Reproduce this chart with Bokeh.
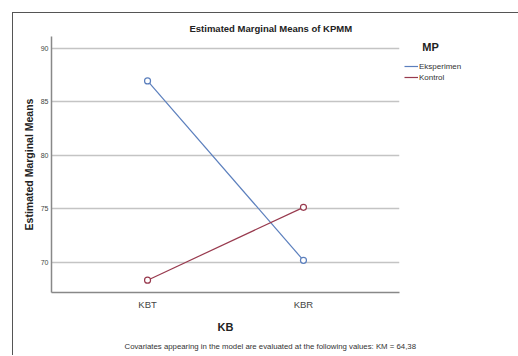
from bokeh.plotting import figure
from bokeh.models import (FactorRange, Range1d, Legend, LegendItem, Title, FixedTicker)
from bokeh.embed import file_html
from bokeh.resources import INLINE

categories = ["KBT", "KBR"]
eksperimen = [86.95, 70.2]
kontrol = [68.35, 75.15]
y_ticks = [70, 75, 80, 85, 90]
series_names = ["Eksperimen", "Kontrol"]
colors = ["#5b7fbd", "#983a4e"]

OFF = 14
L, T, R, B = 52 - OFF, 37 - OFF, 118, 63

p = figure(frame_width=348, frame_height=256, output_backend="svg", toolbar_location=None,
           x_range=FactorRange(*categories, range_padding=0.116),
           y_range=Range1d(67.2, 91.1),
           min_border_left=L, min_border_top=T, min_border_right=R, min_border_bottom=B)
p.styles = {"margin-left": "12px", "margin-top": "12px",
            "border-left": "1.5px solid #555555", "border-top": "1.5px solid #555555"}
p.outline_line_color = None
p.background_fill_color = "white"
p.border_fill_color = "white"

# grid
p.xgrid.grid_line_color = None
p.ygrid.grid_line_color = "#c4c4c4"
p.ygrid.grid_line_width = 1.6
p.ygrid.ticker = FixedTicker(ticks=y_ticks)

# axes
p.yaxis.ticker = FixedTicker(ticks=y_ticks)
for ax in (p.xaxis[0], p.yaxis[0]):
    ax.axis_line_color = "#888888"
    ax.axis_line_width = 1.5
    ax.major_tick_line_color = None
    ax.minor_tick_line_color = None
    ax.major_tick_out = 0
    ax.minor_tick_out = 0
    ax.major_label_text_font = "Liberation Sans"
    ax.major_label_text_color = "#444444"
    ax.axis_label_text_font = "Liberation Sans"
    ax.axis_label_text_font_style = "bold"
    ax.axis_label_text_color = "#222222"
p.yaxis.major_label_text_font_size = "7px"
p.yaxis.major_label_standoff = 3
p.xaxis.major_label_text_font_size = "9.5px"
p.xaxis.major_label_standoff = 6
p.yaxis.axis_label = "Estimated Marginal Means"
p.yaxis.axis_label_text_font_size = "10.5px"
p.yaxis.axis_label_standoff = 3
p.xaxis.axis_label = "KB"
p.xaxis.axis_label_text_font_size = "11px"
p.xaxis.axis_label_standoff = 8

items = []
for name, vals, c in zip(series_names, [eksperimen, kontrol], colors):
    r = p.line(categories, vals, line_color=c, line_width=1.2)
    p.scatter(categories, vals, marker="circle", size=6, fill_color="white",
              line_color=c, line_width=1.2)
    items.append(LegendItem(label=name, renderers=[r]))

legend = Legend(items=items, location="top_left",
                title="\u00a0\u00a0\u00a0\u00a0\u00a0\u00a0MP",
                title_text_font="Liberation Sans", title_text_font_size="11px",
                title_text_font_style="bold", title_text_color="#222222",
                title_standoff=8,
                label_text_font="Liberation Sans", label_text_font_size="8px",
                label_text_color="#333333", glyph_width=14, glyph_height=10,
                label_height=10, spacing=1, padding=0, margin=5, label_standoff=1,
                background_fill_alpha=0, border_line_color=None)
p.add_layout(legend, "right")

p.add_layout(Title(text="Covariates appearing in the model are evaluated at the following values: KM = 64,38",
                   align="left", offset=73, text_font="Liberation Sans",
                   text_font_size="7.8px", text_font_style="normal",
                   text_color="#333333", standoff=9), "below")
p.add_layout(Title(text="Estimated Marginal Means of KPMM", align="left", offset=138,
                   text_font="Liberation Sans", text_font_size="9.5px",
                   text_font_style="bold", text_color="#222222", standoff=5), "above")

open("out.html", "w").write(file_html(p, INLINE))
